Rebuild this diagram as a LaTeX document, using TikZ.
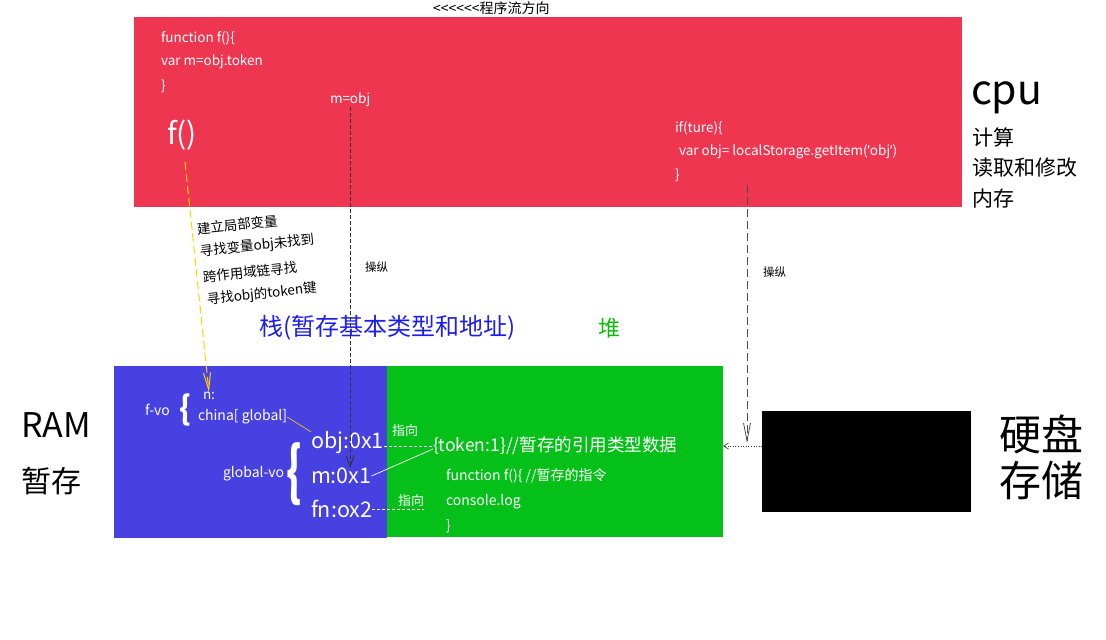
\documentclass[tikz,border=0pt]{standalone}
\usepackage{fontspec}
\setmainfont{Noto Sans CJK SC}
\newfontfamily\latq{Noto Sans}
\usetikzlibrary{arrows.meta}
\newcommand{\fsz}[1]{\fontsize{#1}{#1}\selectfont}
\definecolor{cpured}{RGB}{238,54,80}
\definecolor{rambl}{RGB}{70,65,224}
\definecolor{heapgr}{RGB}{4,192,24}
\definecolor{stackbl}{RGB}{30,30,235}
\definecolor{heaptx}{RGB}{10,190,10}
\definecolor{ylw}{RGB}{255,210,0}
\begin{document}
\begin{tikzpicture}[x=1pt,y=-1pt,
  region/.style={draw=none, inner sep=0pt, outer sep=0pt, anchor=north west},
  lbl/.style={inner sep=0pt, outer sep=0pt, anchor=west},
  wt/.style={lbl, text=white},
  tilt/.style={lbl, font=\fsz{13.5}, rotate=6},
  bracenode/.style={text=white, inner sep=0pt, outer sep=0pt},
  ctrl/.style={line width=0.9pt, dash pattern=on 4pt off 2pt},
  ptr/.style={white, line width=0.7pt, dash pattern=on 3pt off 2pt}
]
\useasboundingbox (0,0) rectangle (1106,640);

% regions
\node[region, fill=cpured, minimum width=828pt, minimum height=190pt] (cpubox) at (134,17) {};
\node[region, fill=rambl, minimum width=273pt, minimum height=172pt] (stack) at (114,366) {};
\node[region, fill=heapgr, minimum width=336pt, minimum height=171pt] (heap) at (387,366) {};
\node[region, fill=black, minimum width=209pt, minimum height=101pt] (disk) at (762,411) {};

% title
\node[lbl, font=\fsz{14}] (title) at (433,8) {<{}<{}<{}<{}<{}<{}程序流方向};

% cpu code
\node[wt, font=\fsz{13.5}] (c1) at (161,38) {function f()\{};
\node[wt, font=\fsz{13.5}] (c2) at (161,62) {var m=obj.token};
\node[wt, font=\fsz{13.5}] (c3) at (161,86) {\}};
\node[wt, font=\fsz{13.5}] (mobj) at (330,100) {m=obj};
\node[wt, font=\fsz{30}] (fcall) at (167,135) {f()};
\node[wt, font=\fsz{13.5}] (if1) at (675,128) {if(ture)\{};
\node[wt, font=\fsz{13.5}] (if2) at (679,152) {var obj= localStorage.getItem({\latq ’}obj{\latq ’})};
\node[wt, font=\fsz{13.5}] (if3) at (675,175) {\}};

% cpu labels
\node[lbl, font=\fsz{41}, anchor=base west] (cpu) at (971,104) {cpu};
\node[lbl, font=\fsz{21}] (cpu1) at (972,137) {计算};
\node[lbl, font=\fsz{21}] (cpu2) at (972,168) {读取和修改};
\node[lbl, font=\fsz{21}] (cpu3) at (972,199) {内存};

% steps
\node[tilt] (s1) at (197,229) {建立局部变量};
\node[tilt] (s2) at (200,252) {寻找变量obj未找到};
\node[tilt] (s3) at (203,277) {跨作用域链寻找};
\node[tilt] (s4) at (207,300) {寻找obj的token键};

\node[lbl, font=\fsz{11.5}] (op1) at (365,267) {操纵};
\node[lbl, font=\fsz{11.5}] (op2) at (763,272) {操纵};

\node[lbl, font=\fsz{24}, text=stackbl] (stk) at (259,328) {栈(暂存基本类型和地址)};
\node[lbl, font=\fsz{22}, text=heaptx] (hp) at (598,328) {堆};

% side labels
\node[lbl, font=\fsz{34}] (ram) at (21,425) {RAM};
\node[lbl, font=\fsz{30}] (ram2) at (21,481) {暂存};
\node[lbl, font=\fsz{42}] (hd1) at (999,434) {硬盘};
\node[lbl, font=\fsz{42}] (hd2) at (999,480) {存储};

% stack contents
\node[wt, font=\fsz{14}] (fvo) at (145,410) {f-vo};
\node[bracenode, font=\fsz{30}\bfseries] (br1) at (185,410) {\scalebox{1}[1.1]{\{}};
\node[wt, font=\fsz{13.5}] (n) at (203,396) {n:};
\node[wt, font=\fsz{14}] (china) at (198,417) {china[ global]};
\node[wt, font=\fsz{14}] (gvo) at (223,474) {global-vo};
\node[bracenode, font=\fsz{40}\bfseries] (br2) at (294,474) {\scalebox{1}[1.6]{\{}};
\node[wt, font=\fsz{21.5}] (obj) at (311,443) {obj:0x1};
\node[wt, font=\fsz{21.5}] (m) at (311,476) {m:0x1};
\node[wt, font=\fsz{21.5}] (fn) at (311,509) {fn:ox2};

% heap contents
\node[wt, font=\fsz{17.5}] (tok) at (433,446) {\{token:1\}//暂存的引用类型数据};
\node[wt, font=\fsz{14}] (h1) at (446,476) {function f()\{ //暂存的指令};
\node[wt, font=\fsz{14}] (h2) at (446,502) {console.log};
\node[wt, font=\fsz{14}] (h3) at (446,526) {\}};
\node[wt, font=\fsz{13}] (pt1) at (392,431) {指向};
\node[wt, font=\fsz{13}] (pt2) at (398,501) {指向};

% connectors
\coordinate (ystart) at (185,162);
\draw[ylw, line width=1pt, dash pattern=on 8pt off 4pt, -{Straight Barb[length=17pt,width=7pt]}] (ystart) -- (n.north);
\draw[black!80, ctrl, -{Straight Barb[length=11pt,width=8pt]}] (mobj.south) -- (mobj.south |- m.north);
\coordinate (ifout) at (747,185);
\coordinate (diskin) at (747,443);
\draw[black!70, line width=0.8pt, dash pattern=on 8pt off 4pt, -{Straight Barb[length=18pt,width=7pt]}] (ifout) -- (diskin);
\draw[ylw, line width=0.6pt] (china.east) -- (obj.north west);
\draw[ptr] (obj.east |- tok.west) -- (tok.west);
\draw[white, line width=0.7pt] (m.east) -- ([yshift=-3pt]tok.west);
\draw[ptr] (fn.east) -- (pt2.east |- fn.east);
\draw[black!80, line width=0.6pt, dotted, -{Straight Barb[length=5pt,width=6pt]}] (disk.west |- tok.west) -- (heap.east |- tok.west);
\end{tikzpicture}
\end{document}
